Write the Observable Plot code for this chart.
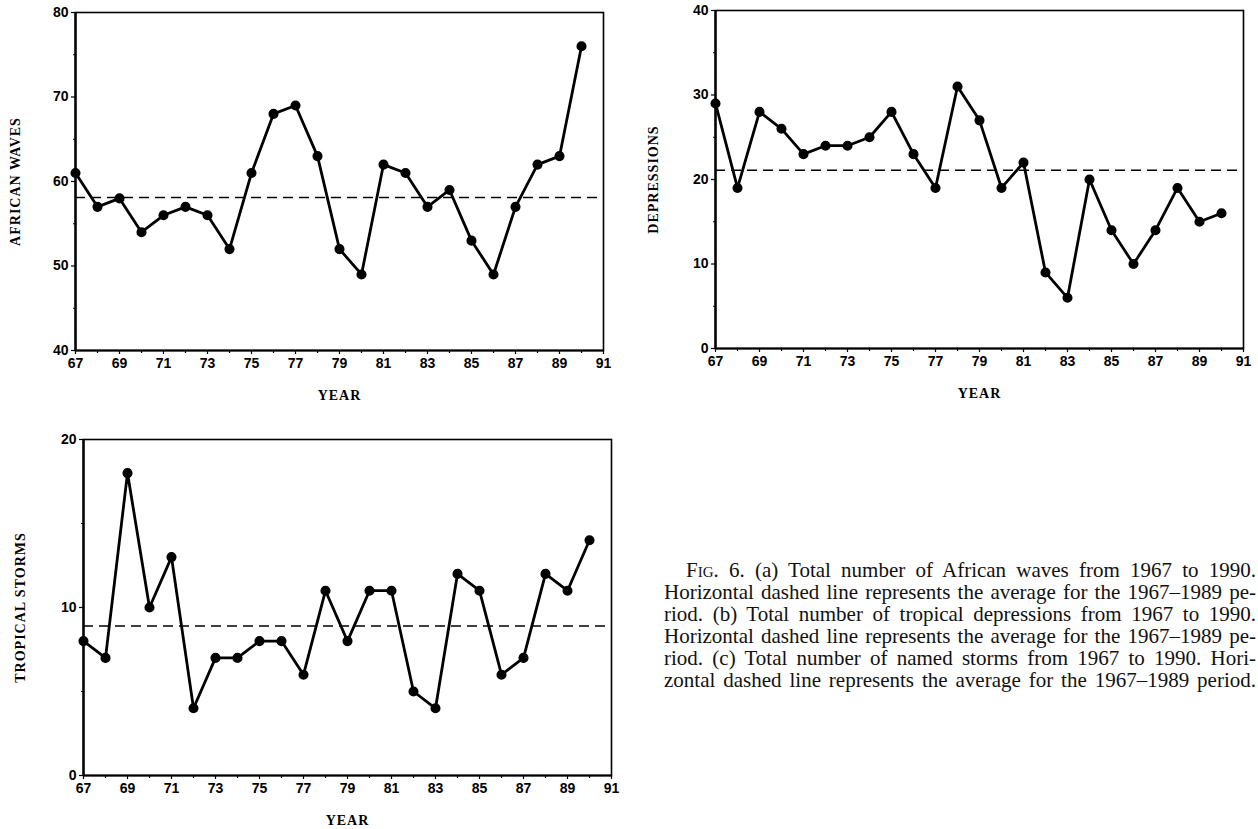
<!DOCTYPE html>
<html>
<head>
<meta charset="utf-8">
<script src="https://cdn.jsdelivr.net/npm/d3@7"></script>
<script src="https://cdn.jsdelivr.net/npm/@observablehq/plot@0.6"></script>
<style>
  html, body { margin: 0; padding: 0; background: #fff; }
  #page { position: relative; width: 1258px; height: 829px; overflow: hidden; background: #fff; }
  .axis-title { font-family: "Liberation Serif", "Times New Roman", serif; font-weight: bold; letter-spacing: 1px; }
  #caption { position: absolute; left: 664px; top: 559px; width: 592px;
    font-family: "Liberation Serif", "Times New Roman", serif; font-size: 21px; line-height: 22px; color: #111; }
  #caption div { text-align: justify; text-align-last: justify; white-space: nowrap; }
  .sc { font-variant: small-caps; }
</style>
</head>
<body>
<div id="page"></div>
<script>
// ---- data ----
const years = [67, 68, 69, 70, 71, 72, 73, 74, 75, 76, 77, 78, 79, 80, 81, 82, 83, 84, 85, 86, 87, 88, 89, 90];
const africanWaves = [61, 57, 58, 54, 56, 57, 56, 52, 61, 68, 69, 63, 52, 49, 62, 61, 57, 59, 53, 49, 57, 62, 63, 76];
const depressions = [29, 19, 28, 26, 23, 24, 24, 25, 28, 23, 19, 31, 27, 19, 22, 9, 6, 20, 14, 10, 14, 19, 15, 16];
const tropicalStorms = [8, 7, 18, 10, 13, 4, 7, 7, 8, 8, 6, 11, 8, 11, 11, 5, 4, 12, 11, 6, 7, 12, 11, 14];
const averages = { waves: 58.1, depressions: 21.1, storms: 8.9 };
const xLabelTicks = [67, 69, 71, 73, 75, 77, 79, 81, 83, 85, 87, 89, 91];
const xMinorTicks = [68, 70, 72, 74, 76, 78, 80, 82, 84, 86, 88, 90];
const yTitles = { waves: "AFRICAN WAVES", depressions: "DEPRESSIONS", storms: "TROPICAL STORMS" };
const xTitle = "YEAR";
const captionLines = [
  "(a) Total number of African waves from 1967 to 1990.",
  "Horizontal dashed line represents the average for the 1967–1989 pe-",
  "riod. (b) Total number of tropical depressions from 1967 to 1990.",
  "Horizontal dashed line represents the average for the 1967–1989 pe-",
  "riod. (c) Total number of named storms from 1967 to 1990. Hori-",
  "zontal dashed line represents the average for the 1967–1989 period."
];

function panel({values, avg, yDomain, yTicks, yMinor, yTitle, left, top, width, height, margins, yTitleDx}) {
  const data = years.map((y, i) => ({year: y, value: values[i]}));
  const chart = Plot.plot({
    width, height,
    marginLeft: margins[0], marginRight: margins[1], marginTop: margins[2], marginBottom: margins[3],
    style: { fontFamily: "'Liberation Sans', Arial, sans-serif", fontSize: "14px", fontWeight: "bold", background: "white", overflow: "visible", color: "black" },
    x: { domain: [67, 91] },
    y: { domain: yDomain },
    marks: [
      Plot.axisX({ticks: xLabelTicks, tickSize: 4, tickPadding: 4, label: null, stroke: "black", strokeWidth: 1.2, fontSize: 14, letterSpacing: 1.5}),
      Plot.axisX({ticks: xMinorTicks, tickSize: 3, text: null, label: null, strokeWidth: 1.2}),
      Plot.axisY({ticks: yTicks, tickSize: 4, tickPadding: 3, label: null, strokeWidth: 1.2, fontSize: 14}),
      Plot.axisY({ticks: yMinor, tickSize: 2, text: null, label: null, strokeWidth: 1}),
      Plot.frame({stroke: "black", strokeWidth: 1.6}),
      Plot.ruleX([years[0]], {stroke: "black", strokeWidth: 2.4}),
      Plot.ruleY([yDomain[0]], {stroke: "black", strokeWidth: 2.2}),
      Plot.ruleY([avg], {stroke: "black", strokeWidth: 1.6, strokeDasharray: "10,6"}),
      Plot.line(data, {x: "year", y: "value", stroke: "black", strokeWidth: 2.8}),
      Plot.dot(data, {x: "year", y: "value", r: 4.3, fill: "black", stroke: "black"}),
      Plot.text([yTitle], {frameAnchor: "left", dx: yTitleDx, rotate: -90, fontSize: 14, className: "axis-title", textAnchor: "middle", lineAnchor: "middle"}),
      Plot.text([xTitle], {frameAnchor: "bottom", dy: 45, fontSize: 14, className: "axis-title", textAnchor: "middle", lineAnchor: "middle"})
    ]
  });
  chart.style.left = left + "px";
  chart.style.top = top + "px";
  chart.style.position = "absolute";
  document.getElementById("page").appendChild(chart);
}

panel({values: africanWaves, avg: averages.waves, yDomain: [40, 80], yTicks: [40, 50, 60, 70, 80], yMinor: [45, 55, 65, 75],
  yTitle: yTitles.waves, left: 0, top: 0, width: 630, height: 410, margins: [75, 27, 12, 60], yTitleDx: -60});
panel({values: depressions, avg: averages.depressions, yDomain: [0, 40], yTicks: [0, 10, 20, 30, 40], yMinor: [5, 15, 25, 35],
  yTitle: yTitles.depressions, left: 630, top: 0, width: 628, height: 408, margins: [85, 15, 10, 60], yTitleDx: -62});
panel({values: tropicalStorms, avg: averages.storms, yDomain: [0, 20], yTicks: [0, 10, 20], yMinor: [5, 15],
  yTitle: yTitles.storms, left: 0, top: 430, width: 630, height: 399, margins: [83, 19, 9, 54], yTitleDx: -63});

// caption
const cap = document.createElement("div");
cap.id = "caption";
captionLines.forEach((t, i) => {
  const d = document.createElement("div");
  if (i === 0) {
    d.style.textIndent = "22px";
    d.innerHTML = 'F<span class="sc">ig</span>. 6. ' + t;
  } else {
    d.textContent = t;
  }
  cap.appendChild(d);
});
document.getElementById("page").appendChild(cap);
</script>
</body>
</html>
